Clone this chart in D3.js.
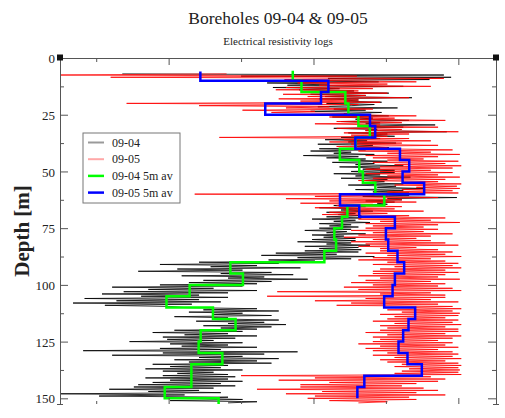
<!DOCTYPE html>
<html><head><meta charset="utf-8">
<script src="https://cdn.jsdelivr.net/npm/d3@7"></script>
<style>body{margin:0;background:#fff}text{font-family:"Liberation Serif","Times New Roman",serif;fill:#222}</style>
</head><body><svg id="c" width="505" height="418"></svg>
<script>
const title = "Boreholes 09-04 & 09-05";
const subtitle = "Electrical resistivity logs";
const yLabel = "Depth [m]";
const seriesNames = ["09-04", "09-05", "09-04 5m av", "09-05 5m av"];
const seriesColors = ["#000000", "#ff0000", "#00ff00", "#0000ff"];
const legendColors = ["#9a9a9a", "#ffa8a8", "#00ff00", "#0000ff"];
const depthTicks = [0, 25, 50, 75, 100, 125, 150];
const depthMinorTicks = [12.5, 37.5, 62.5, 87.5, 112.5, 137.5];
const resMajorTicks = [100, 200, 300];
const resMinorTicks = [50, 150, 250];
const depthDomain = [0, 152.5];
const resDomain = [25, 326];
const cornerMarkers = [[25, 0], [326, 0]];

// raw logs: first sample depth and sampling step (m)
const rawStartDepth = 7;
const rawStep = 0.5;
const log0904 = [
  68, 290, 150, 295, 210, 280,
  175, 245, 168, 210, 182, 262, 172, 218, 190, 228,
  214, 252, 198, 236, 208, 268, 204, 231, 221, 247,
  209, 242, 226, 203, 258, 214, 236, 198, 247, 221,
  224, 252, 213, 241, 229, 266, 219, 246, 236, 284,
  231, 262, 214, 244, 236, 292, 224, 251, 239, 256,
  219, 246, 208, 237, 224, 257, 203, 241, 229, 252,
  204, 236, 198, 226, 214, 242, 193, 231, 209, 236,
  224, 251, 213, 242, 229, 262, 218, 246, 234, 256,
  226, 256, 214, 246, 229, 267, 219, 251, 236, 249,
  234, 262, 224, 257, 244, 277, 229, 262, 241, 266,
  241, 266, 234, 299, 251, 261, 236, 256, 244, 251,
  214, 236, 204, 231, 219, 241, 209, 229, 217, 233,
  209, 233, 199, 229, 214, 239, 204, 226, 211, 231,
  204, 226, 194, 223, 209, 236, 199, 221, 207, 229,
  199, 229, 189, 226, 209, 239, 194, 231, 204, 233,
  194, 231, 174, 216, 164, 242, 189, 226, 169, 201,
  121, 176, 94, 161, 129, 191, 106, 151, 79, 171,
  136, 186, 109, 166, 141, 196, 124, 171, 114, 161,
  94, 151, 61, 131, 86, 161, 69, 141, 54, 121,
  81, 141, 42, 121, 64, 136, 34, 116, 56, 101,
  111, 161, 124, 176, 114, 151, 131, 171, 104, 141,
  131, 176, 119, 166, 141, 181, 124, 171, 136, 161,
  104, 151, 89, 141, 111, 161, 96, 146, 99, 131,
  73, 151, 101, 141, 109, 161, 94, 136, 41, 189,
  96, 166, 61, 151, 121, 176, 104, 161, 114, 171,
  89, 141, 101, 136, 84, 151, 96, 131, 106, 141,
  96, 146, 84, 141, 101, 151, 89, 136, 79, 146,
  76, 131, 59, 121, 86, 136, 25, 111, 52, 141,
  116, 151, 101, 161, 141
];
const log0905 = [
  140, 25, 230, 60, 290, 180,
  216, 271, 189, 251, 204, 281, 181, 241, 174, 231,
  201, 251, 179, 236, 196, 266, 176, 231, 191, 246,
  71, 231, 121, 211, 181, 241, 151, 201, 171, 226,
  226, 271, 211, 256, 231, 291, 216, 261, 201, 246,
  231, 286, 216, 261, 236, 300, 221, 266, 226, 251,
  135, 266, 221, 281, 211, 261, 226, 286, 216, 251,
  246, 296, 231, 281, 251, 301, 236, 286, 241, 276,
  251, 300, 241, 291, 256, 302, 246, 296, 236, 281,
  246, 296, 236, 286, 251, 301, 241, 291, 231, 286,
  266, 302, 256, 299, 271, 301, 261, 296, 251, 300,
  118, 251, 201, 286, 181, 261, 211, 271, 191, 241,
  216, 261, 201, 256, 221, 276, 211, 251, 206, 266,
  241, 291, 231, 281, 246, 301, 236, 286, 241, 276,
  236, 286, 226, 276, 241, 296, 231, 281, 221, 271,
  241, 281, 226, 291, 236, 300, 231, 271, 246, 286,
  246, 296, 236, 291, 251, 302, 241, 281, 231, 291,
  251, 300, 241, 296, 256, 302, 246, 291, 241, 300,
  241, 291, 231, 286, 246, 301, 236, 281, 226, 291,
  241, 286, 221, 296, 231, 302, 175, 281, 246, 291,
  168, 291, 236, 281, 201, 300, 226, 286, 216, 296,
  256, 302, 251, 296, 261, 301, 246, 300, 256, 291,
  251, 300, 241, 296, 256, 302, 246, 291, 251, 300,
  246, 300, 236, 291, 251, 302, 241, 296, 246, 286,
  241, 296, 231, 291, 246, 300, 236, 286, 241, 296,
  251, 300, 241, 296, 256, 302, 246, 291, 251, 300,
  261, 302, 256, 300, 266, 301, 261, 300, 256, 302,
  150, 281, 201, 291, 176, 286, 211, 271, 191, 261,
  191, 276, 161, 286, 206, 271, 181, 291, 201, 266,
  196, 271, 211, 251, 231
];

// 5 m averages: interval boundaries (depth) and values
const avgBounds0904 = [5.6, 10, 15, 20, 25, 30, 35, 40, 45, 50, 55, 60, 65, 70, 75, 80, 85, 90, 95, 100, 105, 110, 115, 120, 125, 130, 135, 140, 145, 150, 152.5];
const avg0904 = [185.7, 191.7, 222.0, 224.1, 231.0, 238.9, 229.2, 218.2, 231.6, 234.1, 242.7, 248.9, 223.4, 219.7, 214.4, 215.6, 207.5, 142.6, 151.3, 114.5, 98.5, 130.6, 146.2, 122.1, 120.7, 137.1, 115.7, 115.7, 97.3, 134.5];
const avgBounds0905 = [6, 10, 15, 20, 25, 30, 35, 40, 45, 50, 55, 60, 65, 70, 75, 80, 85, 90, 95, 100, 105, 110, 115, 120, 125, 130, 135, 140, 145, 150];
const avg0905 = [121.9, 210.3, 205.2, 166.7, 239.0, 242.6, 228.9, 259.7, 266.1, 261.5, 276.4, 218.3, 231.6, 256.2, 250.0, 251.6, 258.0, 262.6, 256.2, 254.6, 248.8, 270.2, 265.6, 261.9, 258.7, 264.9, 274.8, 235.1, 230.3];

const svg = d3.select("#c");
const L = 60, R = 496, T = 58, B = 404;
const x = d3.scaleLinear().domain(resDomain).range([L, R]);
const y = d3.scaleLinear().domain(depthDomain).range([T, B]);

// titles
svg.append("text").attr("x", (L + R) / 2).attr("y", 24).attr("text-anchor", "middle")
  .style("font-size", "17.5px").text(title);
svg.append("text").attr("x", (L + R) / 2).attr("y", 45).attr("text-anchor", "middle")
  .style("font-size", "11px").text(subtitle);
svg.append("text").attr("transform", `translate(29,${(T + B) / 2}) rotate(-90)`)
  .attr("text-anchor", "middle").style("font-size", "21px").style("font-weight", "bold").text(yLabel);

// data
const rawPts = arr => arr.map((v, i) => ({ v, d: rawStartDepth + i * rawStep }));
const stepPts = (bounds, vals) => vals.flatMap((v, i) => [{ v, d: bounds[i] }, { v, d: bounds[i + 1] }]);
const line = d3.line().x(p => x(p.v)).y(p => y(p.d));
const g = svg.append("g");
g.append("path").attr("d", line(rawPts(log0904))).attr("fill", "none")
  .attr("stroke", seriesColors[0]).attr("stroke-width", 0.8);
g.append("path").attr("d", line(rawPts(log0905))).attr("fill", "none")
  .attr("stroke", seriesColors[1]).attr("stroke-width", 0.8);
g.append("path").attr("d", line(stepPts(avgBounds0904, avg0904))).attr("fill", "none")
  .attr("stroke", seriesColors[2]).attr("stroke-width", 2.5);
g.append("path").attr("d", line(stepPts(avgBounds0905, avg0905))).attr("fill", "none")
  .attr("stroke", seriesColors[3]).attr("stroke-width", 2.5);

// axes
const axCol = "#555";
function styleAxis(sel, keepDomain) {
  sel.selectAll(".tick line").attr("stroke", axCol);
  sel.select(".domain").attr("stroke", keepDomain ? axCol : "none");
  sel.selectAll("text").style("font-size", "13px").style("font-family", "Liberation Serif, serif").attr("fill", "#222");
}
// left
svg.append("g").attr("transform", `translate(${L},0)`)
  .call(d3.axisRight(y).tickValues(depthTicks).tickSize(8).tickSizeOuter(0).tickFormat(""))
  .call(s => styleAxis(s, true));
svg.append("g").attr("transform", `translate(${L},0)`)
  .call(d3.axisRight(y).tickValues(depthMinorTicks).tickSize(4).tickSizeOuter(0).tickFormat(""))
  .call(s => styleAxis(s, false));
svg.append("g").attr("transform", `translate(${L},0)`)
  .call(d3.axisLeft(y).tickValues(depthTicks).tickSize(0).tickPadding(5).tickSizeOuter(0))
  .call(s => { styleAxis(s, false); s.selectAll("text").attr("dy", "0.35em"); });
// right
svg.append("g").attr("transform", `translate(${R},0)`)
  .call(d3.axisLeft(y).tickValues(depthTicks).tickSize(8).tickSizeOuter(0).tickFormat(""))
  .call(s => styleAxis(s, true));
svg.append("g").attr("transform", `translate(${R},0)`)
  .call(d3.axisLeft(y).tickValues(depthMinorTicks).tickSize(4).tickSizeOuter(0).tickFormat(""))
  .call(s => styleAxis(s, false));
// top
svg.append("g").attr("transform", `translate(0,${T})`)
  .call(d3.axisBottom(x).tickValues(resMajorTicks).tickSize(7).tickSizeOuter(0).tickFormat(""))
  .call(s => styleAxis(s, true));
svg.append("g").attr("transform", `translate(0,${T})`)
  .call(d3.axisBottom(x).tickValues(resMinorTicks).tickSize(4).tickSizeOuter(0).tickFormat(""))
  .call(s => styleAxis(s, false));
// bottom (frame line absent in the reference, ticks only)
svg.append("g").attr("transform", `translate(0,${B})`)
  .call(d3.axisTop(x).tickValues(resMajorTicks).tickSize(6).tickSizeOuter(0).tickFormat(""))
  .call(s => styleAxis(s, false));
svg.append("g").attr("transform", `translate(0,${B})`)
  .call(d3.axisTop(x).tickValues(resMinorTicks).tickSize(3).tickSizeOuter(0).tickFormat(""))
  .call(s => styleAxis(s, false));
// end caps at bottom of side axes
[L, R].forEach(xx => {
  svg.append("line").attr("x1", xx - 3).attr("x2", xx + 3).attr("y1", B + 0.5).attr("y2", B + 0.5)
    .attr("stroke", axCol);
});

// corner markers
svg.selectAll("rect.corner").data(cornerMarkers).join("rect").attr("class", "corner")
  .attr("x", d => x(d[0]) - 3).attr("y", d => y(d[1]) - 3.5).attr("width", 6).attr("height", 6)
  .attr("fill", "#111");

// legend
const lg = svg.append("g").attr("transform", "translate(83,133)");
lg.append("rect").attr("width", 97).attr("height", 70).attr("fill", "#fff")
  .attr("stroke", "#777").attr("stroke-width", 1);
seriesNames.forEach((name, i) => {
  const yy = 9.5 + i * 16.7;
  lg.append("line").attr("x1", 5).attr("x2", 21).attr("y1", yy).attr("y2", yy)
    .attr("stroke", legendColors[i]).attr("stroke-width", i < 2 ? 2 : 2.5);
  lg.append("text").attr("x", 29).attr("y", yy + 4).style("font-size", "12px").text(name);
});
</script></body></html>
